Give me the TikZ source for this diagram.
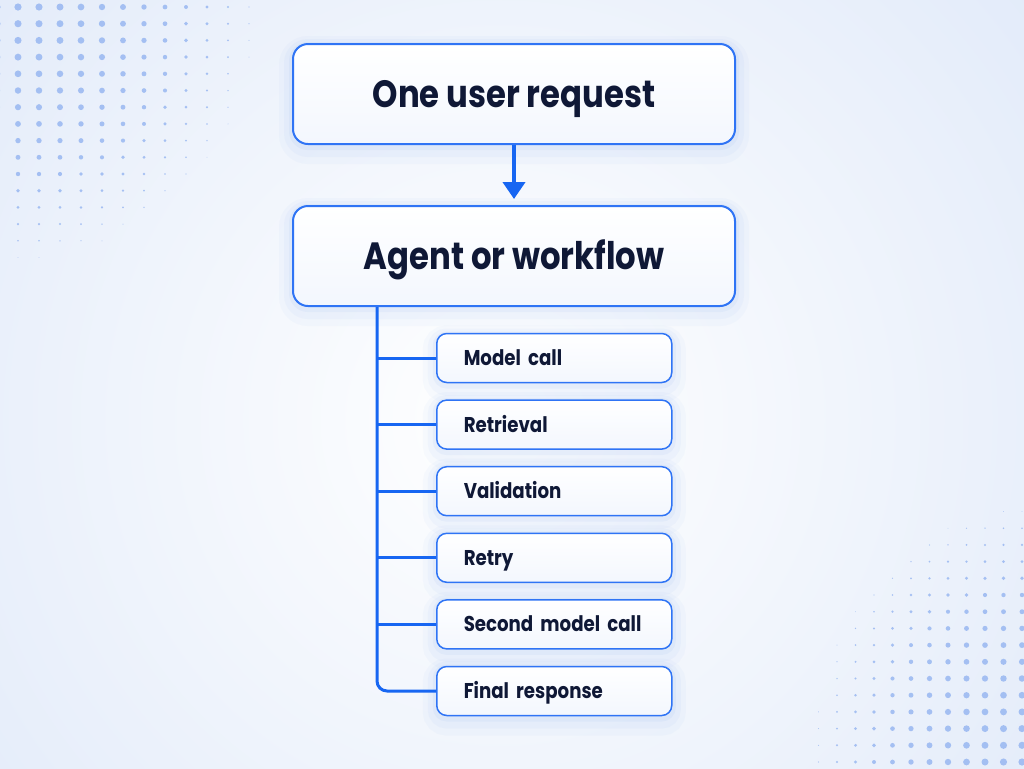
\documentclass[tikz,border=0pt]{standalone}
\usepackage{fontspec}
\setmainfont{Poppins}[FakeStretch = 0.85]
\usetikzlibrary{arrows.meta}

\definecolor{inkblue}{HTML}{0F1836}
\definecolor{edgeblue}{HTML}{2F74F5}
\definecolor{linkblue}{HTML}{1766F2}
\definecolor{bgblue}{HTML}{E1EAF9}
\definecolor{dotblue}{HTML}{80A6EE}
\definecolor{glowblue}{HTML}{6F9BEA}
\definecolor{boxbottom}{HTML}{F3F7FE}

\tikzset{
	glow/.style = {
		preaction = {draw = glowblue, line width = 14pt, opacity = .04, transform canvas = {yshift = -3pt}},
		preaction = {draw = glowblue, line width = 9pt, opacity = .05, transform canvas = {yshift = -2pt}},
		preaction = {draw = glowblue, line width = 4pt, opacity = .07, transform canvas = {yshift = -1pt}}
	},
	bigbox/.style = {glow, draw = edgeblue, line width = 1pt, rounded corners = 7.5pt,
		top color = white, bottom color = boxbottom, text = inkblue,
		minimum width = 221pt, minimum height = 50pt, text height = 13.3pt, text depth = 0pt,
		font = \bfseries\fontsize{19pt}{22pt}\selectfont},
	subbox/.style = {glow, draw = edgeblue, line width = .75pt, rounded corners = 5pt,
		top color = white, bottom color = boxbottom, text = inkblue,
		anchor = west, minimum height = 24.5pt, text height = 7.5pt, text depth = 0pt,
		text width = 90.5pt, inner xsep = 13.5pt, align = left,
		font = \bfseries\fontsize{10.7pt}{13pt}\selectfont},
	link/.style = {draw = linkblue, line width = 1.5pt}
}

\begin{document}
\begin{tikzpicture}[x = 0.5pt, y = -0.5pt, > = {Triangle[width = 11pt, length = 8.5pt]}]

	\useasboundingbox (0, 0) rectangle (1024, 768);

	% Background with dot grids
	
	\begin{scope}
		\clip (0, 0) rectangle (1024, 768);
		\fill [bgblue] (0, 0) rectangle (1024, 768);
		\shade [inner color = white, outer color = bgblue] (500, 420) circle (720);
		
		\foreach \i in {-1, ..., 11}
		\foreach \j in {0, ..., 15}
		{
			\pgfmathsetmacro{\rad}{3.6*(1 - ((max(\i, 0)/12)^2 + (\j/16)^2))}
			\ifdim \rad pt > 0.4pt
				\fill [dotblue, opacity = .65] (18 + 21*\i, 7 + 16.7*\j) circle [radius = 0.5pt*\rad];
			\fi
		}
		
		\foreach \i in {0, ..., 12}
		\foreach \j in {0, ..., 16}
		{
			\pgfmathsetmacro{\rad}{3.6*(1 - ((\i/12)^2 + (\j/16)^2))}
			\ifdim \rad pt > 0.4pt
				\fill [dotblue, opacity = .65] (1022 - 18.5*\i, 762 - 16.7*\j) circle [radius = 0.5pt*\rad];
			\fi
		}
	\end{scope}

	% Request and agent
	
	\node [bigbox] (request) at (514, 94) {One user request};
	\node [bigbox] (agent) at (514, 256) {Agent or workflow};
	\draw [link, line width = 2pt, ->, shorten > = 3pt] (request) -- (agent);
	
	% Steps of the one request
	
	\coordinate (trunk) at ([xshift = 42.5pt] agent.south west);
	
	\foreach \txt [count = \i] in {Model call, Retrieval, Validation, Retry, Second model call, Final response}
		\node [subbox] (s\i) at (436, {358 + 66.6*(\i - 1)}) {\txt};
	
	\draw [link, rounded corners = 5pt] (trunk) -- (trunk |- s6.west) -- (s6.west);
	\foreach \i in {1, ..., 5}
		\draw [link] (trunk |- s\i.west) -- (s\i.west);

\end{tikzpicture}
\end{document}
